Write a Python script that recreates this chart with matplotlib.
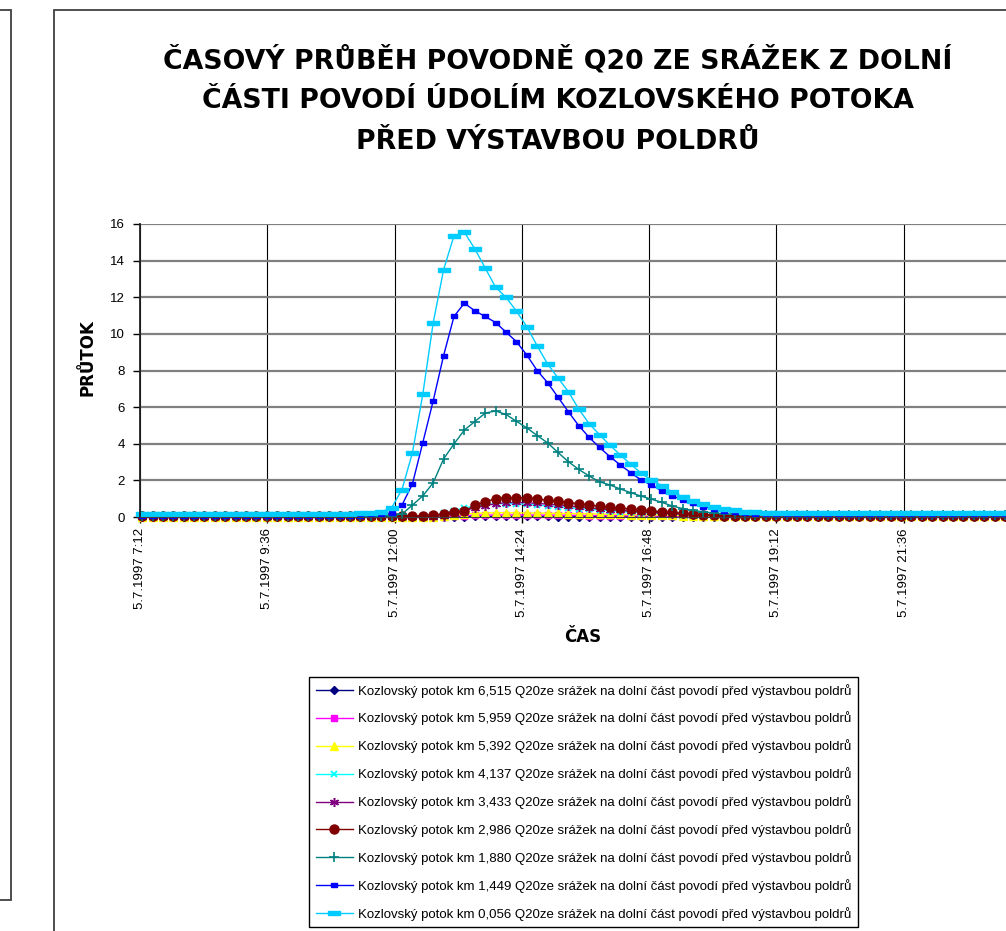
import numpy as np
import matplotlib
matplotlib.use("Agg")
import matplotlib.pyplot as plt
from matplotlib.patches import Rectangle
from matplotlib.ticker import FuncFormatter, MultipleLocator

# cas prvniho bodu [h] a krok [h]
T0 = 7.24
DT = 0.196

km_labels = ["6,515", "5,959", "5,392", "4,137", "3,433", "2,986", "1,880", "1,449", "0,056"]

q_6515 = [0.0] * 30 + [0.01, 0.02, 0.03, 0.03, 0.03, 0.03, 0.03, 0.03, 0.03, 0.03,
                       0.02, 0.02, 0.02, 0.02, 0.02, 0.02, 0.01, 0.01] + [0.0] * 37

q_5959 = [0.01] * 30 + [0.05, 0.08, 0.1, 0.1, 0.11, 0.11, 0.11, 0.11, 0.1, 0.1,
                        0.1, 0.09, 0.09, 0.08, 0.08, 0.07, 0.07, 0.06, 0.06, 0.05,
                        0.05, 0.05, 0.04, 0.04] + [0.03] * 31

q_5392 = [0.01] * 29 + [0.05, 0.1, 0.16, 0.2, 0.22, 0.23, 0.23, 0.23, 0.22, 0.22,
                        0.21, 0.2, 0.19, 0.18, 0.17, 0.16, 0.15, 0.14, 0.13, 0.12,
                        0.11, 0.1, 0.09, 0.08, 0.06, 0.05, 0.04] + [0.03] * 29

q_4137 = [0.02] * 28 + [0.06, 0.2, 0.35, 0.5, 0.6, 0.68, 0.72, 0.73, 0.72, 0.69,
                        0.65, 0.6, 0.56, 0.51, 0.46, 0.42, 0.38, 0.34, 0.3, 0.27,
                        0.24, 0.21, 0.18, 0.16, 0.13, 0.11, 0.09] + [0.07] * 30

q_3433 = [0.02] * 29 + [0.08, 0.2, 0.35, 0.5, 0.62, 0.72, 0.78, 0.8, 0.78, 0.74,
                        0.7, 0.65, 0.6, 0.54, 0.49, 0.44, 0.4, 0.36, 0.32, 0.28,
                        0.25, 0.22, 0.19, 0.16, 0.13, 0.11, 0.09] + [0.07] * 29

q_2986 = [0.03] * 25 + [0.05, 0.06, 0.07, 0.1, 0.18, 0.3, 0.32, 0.63, 0.84, 0.99,
                        1.06, 1.05, 1.04, 0.98, 0.92, 0.86, 0.79, 0.73, 0.66, 0.58,
                        0.52, 0.48, 0.44, 0.38, 0.33, 0.29, 0.25, 0.2, 0.16, 0.13,
                        0.1, 0.08] + [0.06] * 28

q_1880 = [0.05] * 24 + [0.08, 0.16, 0.65, 1.15, 1.87, 3.17, 3.99, 4.75, 5.21, 5.67,
                        5.79, 5.6, 5.23, 4.87, 4.45, 4.05, 3.53, 3.02, 2.6, 2.24,
                        1.92, 1.75, 1.53, 1.33, 1.14, 0.97, 0.8, 0.6, 0.46, 0.36,
                        0.28, 0.22, 0.17, 0.14, 0.12] + [0.1] * 26

q_1449 = [0.08] * 22 + [0.1, 0.14, 0.23, 0.65, 1.8, 4.06, 6.34, 8.81, 10.95, 11.68,
                        11.26, 10.95, 10.62, 10.1, 9.58, 8.85, 8.0, 7.34, 6.55, 5.75,
                        4.99, 4.35, 3.8, 3.3, 2.84, 2.42, 2.02, 1.75, 1.42, 1.16,
                        0.93, 0.75, 0.56, 0.44, 0.35, 0.26, 0.2, 0.17, 0.15] + [0.13] * 24

q_0056 = [0.15] * 19 + [0.17, 0.18, 0.2, 0.22, 0.28, 0.5, 1.5, 3.5, 6.7, 10.6,
                        13.5, 15.35, 15.55, 14.65, 13.6, 12.55, 12.0, 11.25, 10.4, 9.35,
                        8.36, 7.6, 6.85, 5.9, 5.1, 4.5, 3.92, 3.39, 2.88, 2.4,
                        2.02, 1.7, 1.37, 1.1, 0.88, 0.7, 0.55, 0.44, 0.36, 0.3,
                        0.26, 0.23] + [0.2] * 24

series = [q_6515, q_5959, q_5392, q_4137, q_3433, q_2986, q_1880, q_1449, q_0056]

DASH_SHORT = [(-1, -0.5), (1, -0.5), (1, 0.5), (-1, 0.5), (-1, -0.5)]
DASH_LONG = [(-1, -0.28), (1, -0.28), (1, 0.28), (-1, 0.28), (-1, -0.28)]

styles = [
    dict(color="#000080", marker="D", ms=4.5),
    dict(color="#FF00FF", marker="s", ms=4.5),
    dict(color="#FFFF00", marker="^", ms=6),
    dict(color="#00FFFF", marker="x", ms=5, mew=1.3),
    dict(color="#800080", marker=(6, 2, 0), ms=6.5, mew=1.1),
    dict(color="#800000", marker="o", ms=6.5),
    dict(color="#008080", marker="+", ms=7, mew=1.2),
    dict(color="#0000FF", marker=DASH_SHORT, ms=4.5),
    dict(color="#00CCFF", marker=DASH_LONG, ms=8),
]


def fmt_time(h, pos):
    if h > 22:
        return ""
    hh = int(h + 1e-6)
    mm = int(round((h - hh) * 60))
    return f"5.7.1997 {hh}:{mm:02d}"


def main():
    W, H = 1006, 931
    fig = plt.figure(figsize=(W / 100, H / 100), dpi=100)

    # ramecky (levy panel a oblast grafu)
    fig.patches.append(Rectangle((-0.1, (H - 900) / H), 0.1 + 11 / W, 890 / H,
                                 transform=fig.transFigure, fill=False,
                                 ec="#404040", lw=1.3))
    fig.patches.append(Rectangle((54 / W, -0.1), 1.2, (H - 10) / H + 0.1,
                                 transform=fig.transFigure, fill=False,
                                 ec="#404040", lw=1.3))

    ax = fig.add_axes([140 / W, (H - 517) / H, (1031 - 140) / W, (517 - 224) / H])

    n = len(q_0056)
    t = T0 + DT * np.arange(n)

    for km, q, st in zip(km_labels, series, styles):
        ax.plot(t, q, lw=1.0, clip_on=False, mec=st["color"], mfc=st["color"],
                label=f"Kozlovský potok km {km} Q20ze srážek na dolní část povodí před výstavbou poldrů",
                **st)

    ax.set_xlim(7.2, 24.0)
    ax.set_ylim(0, 16)
    ax.xaxis.set_major_locator(MultipleLocator(2.4))
    ax.xaxis.set_major_formatter(FuncFormatter(fmt_time))
    ax.yaxis.set_major_locator(MultipleLocator(2))

    ax.grid(axis="y", color="#808080", lw=1.6)
    ax.grid(axis="x", color="black", lw=0.8)
    ax.set_axisbelow(True)

    for s in ["top", "right"]:
        ax.spines[s].set_visible(False)
    ax.spines["left"].set_color("#202020")
    ax.spines["left"].set_linewidth(1.3)
    ax.spines["bottom"].set_color("#404040")

    ax.tick_params(axis="y", direction="out", length=5, width=1, pad=6,
                   labelsize=9.5)
    ax.tick_params(axis="x", direction="out", length=4, width=1, pad=4,
                   labelsize=9.5, labelrotation=90)
    for lab in ax.get_xticklabels() + ax.get_yticklabels():
        lab.set_fontfamily("Liberation Sans")

    fig.text(88 / W, 1 - 358 / H, "PRŮTOK", rotation=90, ha="center", va="center",
             fontsize=12, fontweight="bold", family="DejaVu Sans")
    fig.text(583 / W, 1 - 637 / H, "ČAS", ha="center", va="center",
             fontsize=12, fontweight="bold", family="DejaVu Sans")

    title = ["ČASOVÝ PRŮBĚH POVODNĚ Q20 ZE SRÁŽEK Z DOLNÍ",
             "ČÁSTI POVODÍ ÚDOLÍM KOZLOVSKÉHO POTOKA",
             "PŘED VÝSTAVBOU POLDRŮ"]
    for k, line in enumerate(title):
        fig.text(558 / W, 1 - (60 + 41 * k) / H, line, ha="center", va="center",
                 fontsize=19.3, fontweight="bold", family="DejaVu Sans")

    leg = fig.legend(loc="upper left", bbox_to_anchor=(309 / W, 1 - 677 / H),
                     prop={"family": "Liberation Sans", "size": 9.5},
                     handlelength=2.8, handletextpad=0.4, labelspacing=1.06,
                     borderpad=0.5, numpoints=1, fancybox=False, framealpha=1,
                     edgecolor="black", borderaxespad=0)
    leg.get_frame().set_linewidth(1.0)

    fig.savefig("out.png", dpi=100)


if __name__ == "__main__":
    main()
